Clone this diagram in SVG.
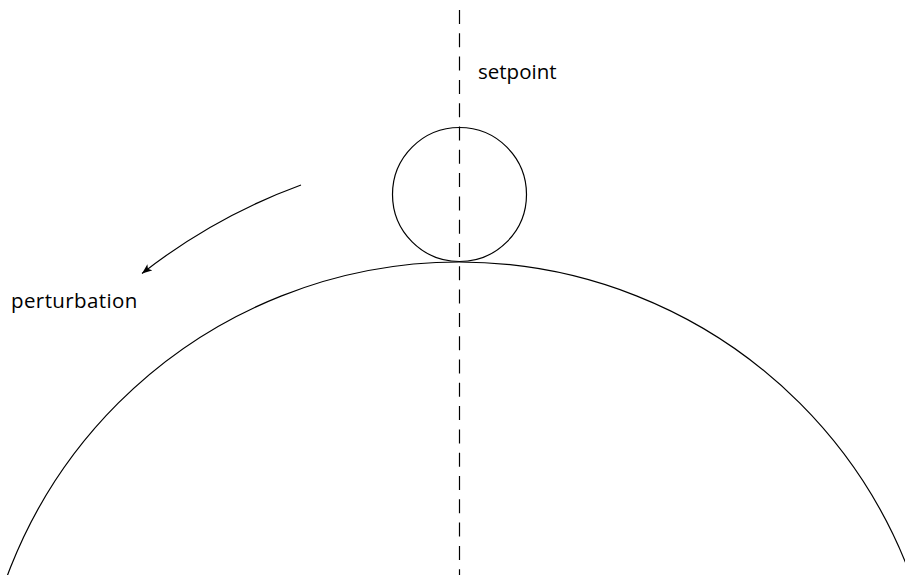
<svg xmlns="http://www.w3.org/2000/svg" width="905" height="575" viewBox="0 0 905 575">
<style>
.ln{fill:none;stroke:#000;stroke-width:1.2}
.dash{fill:none;stroke:#000;stroke-width:1.2;stroke-dasharray:14 9.3}
.lbl{font-family:"Open Sans","Noto Sans",sans-serif;font-size:20.5px;fill:#000}
</style>
<defs>
<marker id="ah" markerUnits="userSpaceOnUse" markerWidth="12" markerHeight="10" refX="10" refY="4" orient="auto">
<path d="M0,0 L10,4 L0,8 L2.5,4 z" fill="#000"/>
</marker>
</defs>
<rect width="905" height="575" fill="#fff"/>
<g id="ground">
<circle class="ln" cx="459" cy="744" r="482"/>
</g>
<g id="ball">
<circle class="ln" cx="459.5" cy="194.5" r="67"/>
</g>
<g id="connectors">
<line class="dash" x1="459.5" y1="10" x2="459.5" y2="575"/>
<path class="ln" d="M301,185 A578,578 0 0 0 142,273.5" marker-end="url(#ah)"/>
</g>
<g id="labels">
<text class="lbl" x="478" y="78.5">setpoint</text>
<text class="lbl" x="11" y="308" letter-spacing="0.4">perturbation</text>
</g>
</svg>
